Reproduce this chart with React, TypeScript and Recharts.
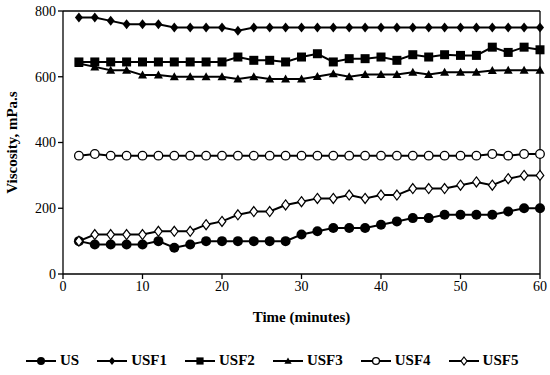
import React from "react"
import { Legend, Line, LineChart, ReferenceLine, XAxis, YAxis, Label } from "recharts"

if (typeof document !== "undefined") document.body.style.margin = "0"

// minutes
const TIME = [2, 4, 6, 8, 10, 12, 14, 16, 18, 20, 22, 24, 26, 28, 30, 32, 34, 36, 38, 40, 42, 44, 46, 48, 50, 52, 54, 56, 58, 60]

// viscosity, mPa.s
const US = [100, 90, 90, 90, 90, 100, 80, 90, 100, 100, 100, 100, 100, 100, 120, 130, 140, 140, 140, 150, 160, 170, 170, 180, 180, 180, 180, 190, 200, 200]
const USF1 = [780, 780, 770, 760, 760, 760, 750, 750, 750, 750, 740, 750, 750, 750, 750, 750, 750, 750, 750, 750, 750, 750, 750, 750, 750, 750, 750, 750, 750, 750]
const USF2 = [645, 645, 645, 645, 645, 645, 645, 645, 645, 645, 660, 650, 650, 645, 660, 670, 645, 655, 655, 660, 650, 667, 660, 667, 665, 665, 690, 674, 690, 682]
const USF3 = [640, 630, 620, 620, 605, 605, 600, 600, 600, 600, 593, 600, 593, 593, 593, 601, 609, 600, 607, 607, 607, 614, 607, 614, 614, 614, 619, 620, 620, 620]
const USF4 = [360, 365, 360, 360, 360, 360, 360, 360, 360, 360, 360, 360, 360, 360, 360, 360, 360, 360, 360, 360, 360, 360, 360, 360, 360, 360, 365, 360, 365, 365]
const USF5 = [100, 120, 120, 120, 120, 130, 130, 130, 150, 160, 180, 190, 190, 210, 220, 230, 230, 240, 230, 240, 240, 260, 260, 260, 270, 280, 270, 290, 300, 300]

const X_TICKS = [0, 10, 20, 30, 40, 50, 60]
const Y_TICKS = [0, 200, 400, 600, 800]

const data = TIME.map((t, i) => ({
  t,
  US: US[i],
  USF1: USF1[i],
  USF2: USF2[i],
  USF3: USF3[i],
  USF4: USF4[i],
  USF5: USF5[i],
}))

const FONT = "'Liberation Serif', 'Times New Roman', serif"

function Marker({ kind, cx, cy, s = 1 }: { kind: string; cx: number; cy: number; s?: number }) {
  switch (kind) {
    case "circle":
      return <circle cx={cx} cy={cy} r={5 * s} fill="#000" />
    case "diamond":
      return <path d={`M${cx},${cy - 5 * s}L${cx + 4 * s},${cy}L${cx},${cy + 5 * s}L${cx - 4 * s},${cy}Z`} fill="#000" />
    case "square":
      return <rect x={cx - 4.5 * s} y={cy - 4.5 * s} width={9 * s} height={9 * s} fill="#000" />
    case "triangle":
      return <path d={`M${cx},${cy - 4.5 * s}L${cx + 4.5 * s},${cy + 3.5 * s}L${cx - 4.5 * s},${cy + 3.5 * s}Z`} fill="#000" />
    case "ocircle":
      return <circle cx={cx} cy={cy} r={4.3 * s} fill="#fff" stroke="#000" strokeWidth={1.3} />
    case "odiamond":
      return (
        <path
          d={`M${cx},${cy - 5 * s}L${cx + 3.8 * s},${cy}L${cx},${cy + 5 * s}L${cx - 3.8 * s},${cy}Z`}
          fill="#fff"
          stroke="#000"
          strokeWidth={1.2}
        />
      )
  }
  return null
}

const SERIES = [
  { key: "US", kind: "circle" },
  { key: "USF1", kind: "diamond" },
  { key: "USF2", kind: "square" },
  { key: "USF3", kind: "triangle" },
  { key: "USF4", kind: "ocircle" },
  { key: "USF5", kind: "odiamond" },
]

function LegendBox() {
  return (
    <div style={{ display: "flex", fontFamily: FONT, fontWeight: "bold", fontSize: 15, alignItems: "center", lineHeight: "17px" }}>
      {SERIES.map((s) => (
        <div key={s.key} style={{ display: "flex", alignItems: "center", marginRight: 18 }}>
          <svg width={30} height={14}>
            <line x1={0} y1={7} x2={30} y2={7} stroke="#000" strokeWidth={2} />
            <Marker kind={s.kind} cx={15} cy={7} s={0.8} />
          </svg>
          <span style={{ marginLeft: 4 }}>{s.key}</span>
        </div>
      ))}
    </div>
  )
}

export default function App() {
  return (
    <LineChart width={550} height={375} data={data} margin={{ top: 11, right: 10, bottom: 28, left: 0 }}>
      <XAxis
        dataKey="t"
        type="number"
        domain={[0, 60]}
        ticks={X_TICKS}
        stroke="#000"
        strokeWidth={1.3}
        tickSize={5}
        tick={{ fill: "#000", fontSize: 14, fontFamily: FONT }}
        height={56}
      >
        <Label
          value="Time (minutes)"
          position="insideBottom"
          offset={8}
          style={{ fill: "#000", fontSize: 15, fontWeight: "bold", fontFamily: FONT }}
        />
      </XAxis>
      <YAxis
        type="number"
        domain={[0, 800]}
        ticks={Y_TICKS}
        width={63}
        stroke="#000"
        strokeWidth={1.3}
        tickSize={5}
        tick={{ fill: "#000", fontSize: 14, fontFamily: FONT }}
      >
        <Label
          value="Viscosity, mPa.s"
          angle={-90}
          position="insideLeft"
          offset={12}
          style={{ textAnchor: "middle", fill: "#000", fontSize: 15, fontWeight: "bold", fontFamily: FONT }}
        />
      </YAxis>
      <ReferenceLine y={800} stroke="#000" strokeWidth={1.3} />
      <ReferenceLine x={60} stroke="#000" strokeWidth={1.3} />
      {SERIES.map((s) => (
        <Line
          key={s.key}
          dataKey={s.key}
          stroke="#000"
          strokeWidth={2}
          isAnimationActive={false}
          dot={(p: any) => <Marker key={`${s.key}-${p.index}`} kind={s.kind} cx={p.cx} cy={p.cy} />}
        />
      ))}
      <Legend content={() => <LegendBox />} wrapperStyle={{ left: 26, top: 352, width: "auto" }} />
    </LineChart>
  )
}
